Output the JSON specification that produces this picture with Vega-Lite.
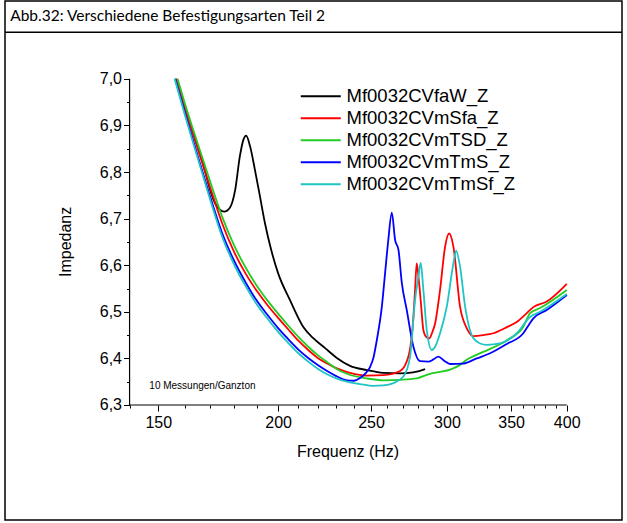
{
  "$schema": "https://vega.github.io/schema/vega-lite/v6.json",
  "width": 617,
  "height": 519,
  "autosize": {"type": "none"},
  "padding": {"left": 5, "top": 1, "right": 5, "bottom": 3},
  "background": "white",
  "config": {
    "view": {"stroke": "black", "strokeWidth": 1.5},
    "axis": {"grid": false, "domain": false, "labelFont": "Liberation Sans", "labelFontSize": 16, "labelColor": "black", "tickColor": "black", "tickWidth": 1}
  },
  "resolve": {"axis": {"x": "independent", "y": "independent"}},
  "layer": [
    {
      "data": {"values": [{"z": 7.1}]},
      "mark": {"type": "rule", "color": "black", "strokeWidth": 1.5},
      "encoding": {
        "y": {"field": "z", "type": "quantitative", "scale": {"domain": [6.0532, 7.167], "nice": false, "zero": false}, "axis": null}
      }
    },
    {
      "data": {"values": [
        {"f": 140, "f2": 400, "z": 6.3, "z2": 6.3},
        {"f": 140, "f2": 140, "z": 6.3, "z2": 7.0}
      ]},
      "mark": {"type": "rule", "color": "black", "strokeWidth": 1.2},
      "encoding": {
        "x": {
          "field": "f", "type": "quantitative",
          "scale": {"type": "log", "domain": [103.8, 456.8], "nice": false},
          "axis": {
            "title": null, "orient": "bottom", "offset": -115, "labels": false, "tickSize": 3,
            "values": [140, 160, 170, 180, 190, 210, 220, 230, 240, 260, 270, 280, 290, 310, 320, 330, 340, 360, 370, 380, 390]
          }
        },
        "x2": {"field": "f2"},
        "y": {
          "field": "z", "type": "quantitative",
          "scale": {"domain": [6.0532, 7.167], "nice": false, "zero": false},
          "axis": {
            "title": null, "orient": "left", "offset": -124.5, "labels": false, "tickSize": 3,
            "values": [6.35, 6.45, 6.55, 6.65, 6.75, 6.85, 6.95]
          }
        },
        "y2": {"field": "z2"}
      }
    },
    {
      "data": {"values": [
        {"s": "Mf0032CVfaW_Z", "f": 156.4, "z": 7.0},
        {"s": "Mf0032CVfaW_Z", "f": 159.3, "z": 6.947},
        {"s": "Mf0032CVfaW_Z", "f": 165.8, "z": 6.84},
        {"s": "Mf0032CVfaW_Z", "f": 171.9, "z": 6.733},
        {"s": "Mf0032CVfaW_Z", "f": 173.8, "z": 6.72},
        {"s": "Mf0032CVfaW_Z", "f": 175.7, "z": 6.715},
        {"s": "Mf0032CVfaW_Z", "f": 178.2, "z": 6.724},
        {"s": "Mf0032CVfaW_Z", "f": 180.4, "z": 6.761},
        {"s": "Mf0032CVfaW_Z", "f": 182.5, "z": 6.835},
        {"s": "Mf0032CVfaW_Z", "f": 184.0, "z": 6.869},
        {"s": "Mf0032CVfaW_Z", "f": 185.2, "z": 6.878},
        {"s": "Mf0032CVfaW_Z", "f": 187.0, "z": 6.855},
        {"s": "Mf0032CVfaW_Z", "f": 189.2, "z": 6.804},
        {"s": "Mf0032CVfaW_Z", "f": 191.5, "z": 6.747},
        {"s": "Mf0032CVfaW_Z", "f": 193.8, "z": 6.69},
        {"s": "Mf0032CVfaW_Z", "f": 196.7, "z": 6.633},
        {"s": "Mf0032CVfaW_Z", "f": 200.0, "z": 6.583},
        {"s": "Mf0032CVfaW_Z", "f": 205.8, "z": 6.525},
        {"s": "Mf0032CVfaW_Z", "f": 212.4, "z": 6.468},
        {"s": "Mf0032CVfaW_Z", "f": 217.5, "z": 6.444},
        {"s": "Mf0032CVfaW_Z", "f": 223.9, "z": 6.422},
        {"s": "Mf0032CVfaW_Z", "f": 230.3, "z": 6.401},
        {"s": "Mf0032CVfaW_Z", "f": 237.7, "z": 6.384},
        {"s": "Mf0032CVfaW_Z", "f": 247.5, "z": 6.375},
        {"s": "Mf0032CVfaW_Z", "f": 257.3, "z": 6.369},
        {"s": "Mf0032CVfaW_Z", "f": 268.1, "z": 6.368},
        {"s": "Mf0032CVfaW_Z", "f": 276.6, "z": 6.37},
        {"s": "Mf0032CVfaW_Z", "f": 284.7, "z": 6.377},

        {"s": "Mf0032CVmSfa_Z", "f": 156.6, "z": 7.0},
        {"s": "Mf0032CVmSfa_Z", "f": 160, "z": 6.935},
        {"s": "Mf0032CVmSfa_Z", "f": 165, "z": 6.848},
        {"s": "Mf0032CVmSfa_Z", "f": 170, "z": 6.765},
        {"s": "Mf0032CVmSfa_Z", "f": 175, "z": 6.688},
        {"s": "Mf0032CVmSfa_Z", "f": 180, "z": 6.628},
        {"s": "Mf0032CVmSfa_Z", "f": 185, "z": 6.582},
        {"s": "Mf0032CVmSfa_Z", "f": 190, "z": 6.545},
        {"s": "Mf0032CVmSfa_Z", "f": 195, "z": 6.514},
        {"s": "Mf0032CVmSfa_Z", "f": 200, "z": 6.487},
        {"s": "Mf0032CVmSfa_Z", "f": 205, "z": 6.462},
        {"s": "Mf0032CVmSfa_Z", "f": 210, "z": 6.438},
        {"s": "Mf0032CVmSfa_Z", "f": 215, "z": 6.418},
        {"s": "Mf0032CVmSfa_Z", "f": 220, "z": 6.401},
        {"s": "Mf0032CVmSfa_Z", "f": 225, "z": 6.389},
        {"s": "Mf0032CVmSfa_Z", "f": 230, "z": 6.379},
        {"s": "Mf0032CVmSfa_Z", "f": 237.7, "z": 6.369},
        {"s": "Mf0032CVmSfa_Z", "f": 247.5, "z": 6.363},
        {"s": "Mf0032CVmSfa_Z", "f": 257.5, "z": 6.364},
        {"s": "Mf0032CVmSfa_Z", "f": 268.1, "z": 6.373},
        {"s": "Mf0032CVmSfa_Z", "f": 273.5, "z": 6.404},
        {"s": "Mf0032CVmSfa_Z", "f": 276.8, "z": 6.489},
        {"s": "Mf0032CVmSfa_Z", "f": 277.9, "z": 6.547},
        {"s": "Mf0032CVmSfa_Z", "f": 279.0, "z": 6.604},
        {"s": "Mf0032CVmSfa_Z", "f": 280.2, "z": 6.575},
        {"s": "Mf0032CVmSfa_Z", "f": 281.8, "z": 6.52},
        {"s": "Mf0032CVmSfa_Z", "f": 283.5, "z": 6.461},
        {"s": "Mf0032CVmSfa_Z", "f": 285.5, "z": 6.446},
        {"s": "Mf0032CVmSfa_Z", "f": 287.6, "z": 6.443},
        {"s": "Mf0032CVmSfa_Z", "f": 289.5, "z": 6.455},
        {"s": "Mf0032CVmSfa_Z", "f": 291.6, "z": 6.475},
        {"s": "Mf0032CVmSfa_Z", "f": 295.1, "z": 6.547},
        {"s": "Mf0032CVmSfa_Z", "f": 298.7, "z": 6.64},
        {"s": "Mf0032CVmSfa_Z", "f": 301.6, "z": 6.668},
        {"s": "Mf0032CVmSfa_Z", "f": 304.7, "z": 6.64},
        {"s": "Mf0032CVmSfa_Z", "f": 309.6, "z": 6.511},
        {"s": "Mf0032CVmSfa_Z", "f": 314.6, "z": 6.465},
        {"s": "Mf0032CVmSfa_Z", "f": 319.7, "z": 6.448},
        {"s": "Mf0032CVmSfa_Z", "f": 327.4, "z": 6.45},
        {"s": "Mf0032CVmSfa_Z", "f": 335.4, "z": 6.454},
        {"s": "Mf0032CVmSfa_Z", "f": 346.4, "z": 6.467},
        {"s": "Mf0032CVmSfa_Z", "f": 354.8, "z": 6.478},
        {"s": "Mf0032CVmSfa_Z", "f": 363.4, "z": 6.497},
        {"s": "Mf0032CVmSfa_Z", "f": 369.2, "z": 6.51},
        {"s": "Mf0032CVmSfa_Z", "f": 381.3, "z": 6.522},
        {"s": "Mf0032CVmSfa_Z", "f": 400.1, "z": 6.56},

        {"s": "Mf0032CVmTSD_Z", "f": 157.1, "z": 7.0},
        {"s": "Mf0032CVmTSD_Z", "f": 160, "z": 6.945},
        {"s": "Mf0032CVmTSD_Z", "f": 165, "z": 6.859},
        {"s": "Mf0032CVmTSD_Z", "f": 170, "z": 6.778},
        {"s": "Mf0032CVmTSD_Z", "f": 175, "z": 6.702},
        {"s": "Mf0032CVmTSD_Z", "f": 180, "z": 6.642},
        {"s": "Mf0032CVmTSD_Z", "f": 185, "z": 6.595},
        {"s": "Mf0032CVmTSD_Z", "f": 190, "z": 6.556},
        {"s": "Mf0032CVmTSD_Z", "f": 195, "z": 6.524},
        {"s": "Mf0032CVmTSD_Z", "f": 200, "z": 6.496},
        {"s": "Mf0032CVmTSD_Z", "f": 205, "z": 6.47},
        {"s": "Mf0032CVmTSD_Z", "f": 210, "z": 6.446},
        {"s": "Mf0032CVmTSD_Z", "f": 215, "z": 6.425},
        {"s": "Mf0032CVmTSD_Z", "f": 220, "z": 6.407},
        {"s": "Mf0032CVmTSD_Z", "f": 225, "z": 6.392},
        {"s": "Mf0032CVmTSD_Z", "f": 230, "z": 6.378},
        {"s": "Mf0032CVmTSD_Z", "f": 235.9, "z": 6.367},
        {"s": "Mf0032CVmTSD_Z", "f": 247.5, "z": 6.357},
        {"s": "Mf0032CVmTSD_Z", "f": 257.5, "z": 6.353},
        {"s": "Mf0032CVmTSD_Z", "f": 268, "z": 6.354},
        {"s": "Mf0032CVmTSD_Z", "f": 279.0, "z": 6.357},
        {"s": "Mf0032CVmTSD_Z", "f": 288.1, "z": 6.367},
        {"s": "Mf0032CVmTSD_Z", "f": 295, "z": 6.371},
        {"s": "Mf0032CVmTSD_Z", "f": 302.3, "z": 6.376},
        {"s": "Mf0032CVmTSD_Z", "f": 309, "z": 6.385},
        {"s": "Mf0032CVmTSD_Z", "f": 314.6, "z": 6.397},
        {"s": "Mf0032CVmTSD_Z", "f": 327.4, "z": 6.414},
        {"s": "Mf0032CVmTSD_Z", "f": 346.4, "z": 6.439},
        {"s": "Mf0032CVmTSD_Z", "f": 360.4, "z": 6.468},
        {"s": "Mf0032CVmTSD_Z", "f": 366.3, "z": 6.497},
        {"s": "Mf0032CVmTSD_Z", "f": 375.2, "z": 6.508},
        {"s": "Mf0032CVmTSD_Z", "f": 400.1, "z": 6.547},

        {"s": "Mf0032CVmTmS_Z", "f": 156.2, "z": 7.0},
        {"s": "Mf0032CVmTmS_Z", "f": 160, "z": 6.925},
        {"s": "Mf0032CVmTmS_Z", "f": 165, "z": 6.833},
        {"s": "Mf0032CVmTmS_Z", "f": 170, "z": 6.745},
        {"s": "Mf0032CVmTmS_Z", "f": 175, "z": 6.667},
        {"s": "Mf0032CVmTmS_Z", "f": 180, "z": 6.609},
        {"s": "Mf0032CVmTmS_Z", "f": 185, "z": 6.563},
        {"s": "Mf0032CVmTmS_Z", "f": 190, "z": 6.524},
        {"s": "Mf0032CVmTmS_Z", "f": 195, "z": 6.493},
        {"s": "Mf0032CVmTmS_Z", "f": 200, "z": 6.465},
        {"s": "Mf0032CVmTmS_Z", "f": 205, "z": 6.441},
        {"s": "Mf0032CVmTmS_Z", "f": 210, "z": 6.419},
        {"s": "Mf0032CVmTmS_Z", "f": 215, "z": 6.401},
        {"s": "Mf0032CVmTmS_Z", "f": 220, "z": 6.386},
        {"s": "Mf0032CVmTmS_Z", "f": 225, "z": 6.373},
        {"s": "Mf0032CVmTmS_Z", "f": 230, "z": 6.362},
        {"s": "Mf0032CVmTmS_Z", "f": 235.9, "z": 6.353},
        {"s": "Mf0032CVmTmS_Z", "f": 240, "z": 6.352},
        {"s": "Mf0032CVmTmS_Z", "f": 243.5, "z": 6.358},
        {"s": "Mf0032CVmTmS_Z", "f": 247, "z": 6.369},
        {"s": "Mf0032CVmTmS_Z", "f": 249.5, "z": 6.382},
        {"s": "Mf0032CVmTmS_Z", "f": 251.5, "z": 6.402},
        {"s": "Mf0032CVmTmS_Z", "f": 253.5, "z": 6.439},
        {"s": "Mf0032CVmTmS_Z", "f": 256.6, "z": 6.511},
        {"s": "Mf0032CVmTmS_Z", "f": 258.6, "z": 6.583},
        {"s": "Mf0032CVmTmS_Z", "f": 260.6, "z": 6.654},
        {"s": "Mf0032CVmTmS_Z", "f": 262.8, "z": 6.713},
        {"s": "Mf0032CVmTmS_Z", "f": 264.9, "z": 6.654},
        {"s": "Mf0032CVmTmS_Z", "f": 267.0, "z": 6.634},
        {"s": "Mf0032CVmTmS_Z", "f": 269.2, "z": 6.562},
        {"s": "Mf0032CVmTmS_Z", "f": 272.4, "z": 6.504},
        {"s": "Mf0032CVmTmS_Z", "f": 276.8, "z": 6.425},
        {"s": "Mf0032CVmTmS_Z", "f": 281.2, "z": 6.394},
        {"s": "Mf0032CVmTmS_Z", "f": 286.9, "z": 6.393},
        {"s": "Mf0032CVmTmS_Z", "f": 290.5, "z": 6.398},
        {"s": "Mf0032CVmTmS_Z", "f": 293.9, "z": 6.404},
        {"s": "Mf0032CVmTmS_Z", "f": 298, "z": 6.395},
        {"s": "Mf0032CVmTmS_Z", "f": 302.3, "z": 6.388},
        {"s": "Mf0032CVmTmS_Z", "f": 312.1, "z": 6.389},
        {"s": "Mf0032CVmTmS_Z", "f": 322.3, "z": 6.4},
        {"s": "Mf0032CVmTmS_Z", "f": 332.8, "z": 6.411},
        {"s": "Mf0032CVmTmS_Z", "f": 346.4, "z": 6.431},
        {"s": "Mf0032CVmTmS_Z", "f": 360.4, "z": 6.454},
        {"s": "Mf0032CVmTmS_Z", "f": 366, "z": 6.475},
        {"s": "Mf0032CVmTmS_Z", "f": 369.2, "z": 6.486},
        {"s": "Mf0032CVmTmS_Z", "f": 381.3, "z": 6.504},
        {"s": "Mf0032CVmTmS_Z", "f": 400.1, "z": 6.536},

        {"s": "Mf0032CVmTmSf_Z", "f": 156.0, "z": 7.0},
        {"s": "Mf0032CVmTmSf_Z", "f": 160, "z": 6.92},
        {"s": "Mf0032CVmTmSf_Z", "f": 165, "z": 6.828},
        {"s": "Mf0032CVmTmSf_Z", "f": 170, "z": 6.739},
        {"s": "Mf0032CVmTmSf_Z", "f": 175, "z": 6.659},
        {"s": "Mf0032CVmTmSf_Z", "f": 180, "z": 6.601},
        {"s": "Mf0032CVmTmSf_Z", "f": 185, "z": 6.555},
        {"s": "Mf0032CVmTmSf_Z", "f": 190, "z": 6.516},
        {"s": "Mf0032CVmTmSf_Z", "f": 195, "z": 6.485},
        {"s": "Mf0032CVmTmSf_Z", "f": 200, "z": 6.457},
        {"s": "Mf0032CVmTmSf_Z", "f": 205, "z": 6.433},
        {"s": "Mf0032CVmTmSf_Z", "f": 210, "z": 6.411},
        {"s": "Mf0032CVmTmSf_Z", "f": 215, "z": 6.393},
        {"s": "Mf0032CVmTmSf_Z", "f": 220, "z": 6.378},
        {"s": "Mf0032CVmTmSf_Z", "f": 225, "z": 6.366},
        {"s": "Mf0032CVmTmSf_Z", "f": 230, "z": 6.357},
        {"s": "Mf0032CVmTmSf_Z", "f": 235.9, "z": 6.35},
        {"s": "Mf0032CVmTmSf_Z", "f": 243.5, "z": 6.345},
        {"s": "Mf0032CVmTmSf_Z", "f": 251.4, "z": 6.341},
        {"s": "Mf0032CVmTmSf_Z", "f": 257.5, "z": 6.342},
        {"s": "Mf0032CVmTmSf_Z", "f": 263.8, "z": 6.347},
        {"s": "Mf0032CVmTmSf_Z", "f": 270.2, "z": 6.361},
        {"s": "Mf0032CVmTmSf_Z", "f": 274.6, "z": 6.404},
        {"s": "Mf0032CVmTmSf_Z", "f": 277.9, "z": 6.525},
        {"s": "Mf0032CVmTmSf_Z", "f": 280.1, "z": 6.575},
        {"s": "Mf0032CVmTmSf_Z", "f": 281.7, "z": 6.605},
        {"s": "Mf0032CVmTmSf_Z", "f": 283.5, "z": 6.547},
        {"s": "Mf0032CVmTmSf_Z", "f": 285.8, "z": 6.461},
        {"s": "Mf0032CVmTmSf_Z", "f": 289.3, "z": 6.418},
        {"s": "Mf0032CVmTmSf_Z", "f": 291.6, "z": 6.425},
        {"s": "Mf0032CVmTmSf_Z", "f": 295.1, "z": 6.454},
        {"s": "Mf0032CVmTmSf_Z", "f": 299.9, "z": 6.511},
        {"s": "Mf0032CVmTmSf_Z", "f": 304.7, "z": 6.604},
        {"s": "Mf0032CVmTmSf_Z", "f": 306.7, "z": 6.631},
        {"s": "Mf0032CVmTmSf_Z", "f": 309.6, "z": 6.597},
        {"s": "Mf0032CVmTmSf_Z", "f": 313.4, "z": 6.511},
        {"s": "Mf0032CVmTmSf_Z", "f": 319.7, "z": 6.443},
        {"s": "Mf0032CVmTmSf_Z", "f": 325, "z": 6.432},
        {"s": "Mf0032CVmTmSf_Z", "f": 330.1, "z": 6.429},
        {"s": "Mf0032CVmTmSf_Z", "f": 340.8, "z": 6.432},
        {"s": "Mf0032CVmTmSf_Z", "f": 354.8, "z": 6.454},
        {"s": "Mf0032CVmTmSf_Z", "f": 366.3, "z": 6.489},
        {"s": "Mf0032CVmTmSf_Z", "f": 375.2, "z": 6.5},
        {"s": "Mf0032CVmTmSf_Z", "f": 400.1, "z": 6.538}
      ]},
      "mark": {"type": "line", "strokeWidth": 1.8, "interpolate": "monotone"},
      "encoding": {
        "x": {
          "field": "f", "type": "quantitative",
          "scale": {"type": "log", "domain": [103.8, 456.8], "nice": false},
          "axis": {
            "title": null, "orient": "bottom", "offset": -115, "tickSize": 6,
            "values": [150, 200, 250, 300, 350, 400],
            "labelPadding": 3, "labelFlush": false, "labelOverlap": false
          }
        },
        "y": {
          "field": "z", "type": "quantitative",
          "scale": {"domain": [6.0532, 7.167], "nice": false, "zero": false},
          "axis": {
            "title": null, "orient": "left", "offset": -124.5, "tickSize": 6,
            "values": [6.3, 6.4, 6.5, 6.6, 6.7, 6.8, 6.9, 7.0],
            "labelExpr": "replace(format(datum.value, '.1f'), '.', ',')",
            "labelPadding": 2, "labelFlush": false, "labelOverlap": false
          }
        },
        "color": {
          "field": "s", "type": "nominal",
          "scale": {
            "domain": ["Mf0032CVfaW_Z", "Mf0032CVmSfa_Z", "Mf0032CVmTSD_Z", "Mf0032CVmTmS_Z", "Mf0032CVmTmSf_Z"],
            "range": ["#000000", "#ff0000", "#22cc22", "#0000ff", "#1fc4c4"]
          },
          "legend": {
            "title": null, "orient": "none", "legendX": 306.5, "legendY": 86,
            "symbolType": "M-5,0H5", "symbolSize": 64, "symbolStrokeWidth": 2,
            "labelFont": "Liberation Sans", "labelFontSize": 18.5, "labelColor": "black",
            "labelOffset": 16.5, "rowPadding": 3, "labelLimit": 300
          }
        }
      }
    },
    {
      "data": {"values": [{"t": "Abb.32: Verschiedene Befestigungsarten Teil 2", "f": 105.1, "z": 7.135}]},
      "mark": {"type": "text", "font": "Lato", "fontSize": 15.5, "align": "left", "baseline": "middle", "color": "black"},
      "encoding": {
        "x": {"field": "f", "type": "quantitative", "scale": {"type": "log", "domain": [103.8, 456.8], "nice": false}, "axis": null},
        "y": {"field": "z", "type": "quantitative", "scale": {"domain": [6.0532, 7.167], "nice": false, "zero": false}, "axis": null},
        "text": {"field": "t"}
      }
    },
    {
      "data": {"values": [{"t": "Frequenz (Hz)", "f": 236.6, "z": 6.199}]},
      "mark": {"type": "text", "font": "Liberation Sans", "fontSize": 16, "align": "center", "baseline": "middle", "color": "black"},
      "encoding": {
        "x": {"field": "f", "type": "quantitative", "scale": {"type": "log", "domain": [103.8, 456.8], "nice": false}, "axis": null},
        "y": {"field": "z", "type": "quantitative", "scale": {"domain": [6.0532, 7.167], "nice": false, "zero": false}, "axis": null},
        "text": {"field": "t"}
      }
    },
    {
      "data": {"values": [{"t": "Impedanz", "f": 120.2, "z": 6.65}]},
      "mark": {"type": "text", "font": "Liberation Sans", "fontSize": 16, "align": "center", "baseline": "middle", "angle": 270, "color": "black"},
      "encoding": {
        "x": {"field": "f", "type": "quantitative", "scale": {"type": "log", "domain": [103.8, 456.8], "nice": false}, "axis": null},
        "y": {"field": "z", "type": "quantitative", "scale": {"domain": [6.0532, 7.167], "nice": false, "zero": false}, "axis": null},
        "text": {"field": "t"}
      }
    },
    {
      "data": {"values": [{"t": "10 Messungen/Ganzton", "f": 146.8, "z": 6.34}]},
      "mark": {"type": "text", "font": "Liberation Sans", "fontSize": 10, "align": "left", "baseline": "middle", "color": "black"},
      "encoding": {
        "x": {"field": "f", "type": "quantitative", "scale": {"type": "log", "domain": [103.8, 456.8], "nice": false}, "axis": null},
        "y": {"field": "z", "type": "quantitative", "scale": {"domain": [6.0532, 7.167], "nice": false, "zero": false}, "axis": null},
        "text": {"field": "t"}
      }
    }
  ]
}
